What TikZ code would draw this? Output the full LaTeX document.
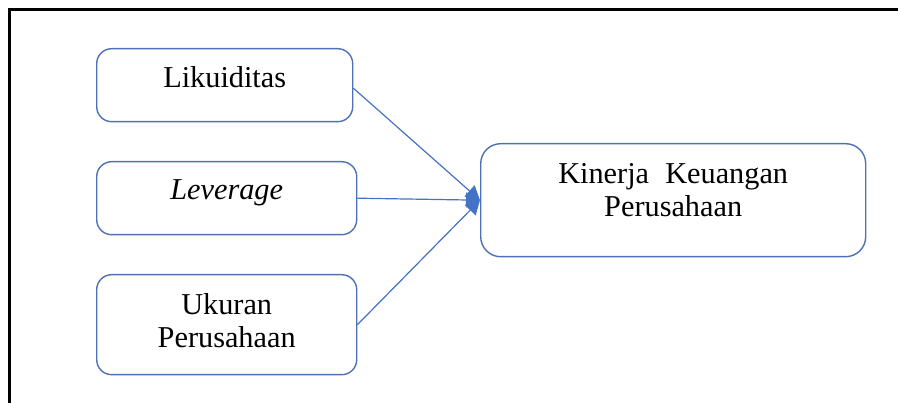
\documentclass[tikz,border=0pt]{standalone}
\usepackage{fontspec}
\setmainfont{Liberation Serif}
\usetikzlibrary{arrows.meta}
\definecolor{boxblue}{RGB}{78,112,180}
\definecolor{linkblue}{RGB}{68,114,196}

\begin{document}
\begin{tikzpicture}[x=1pt,y=-1pt]


\tikzset{
	varbox/.style={draw=boxblue, line width=1.4pt, rounded corners=#1pt, inner sep=0pt,
      align=center, anchor=north west, font=\fontsize{30.3}{32.5}\selectfont},
	varbox/.default=15,
	link/.style={draw=linkblue, line width=1.2pt, -{Triangle[length=14pt,width=15pt]}}
}

\useasboundingbox (0,0) rectangle (898,403);
\draw[line width=3.2pt] (9.5,403) -- (9.5,9.5) -- (898,9.5);

\node[varbox, text width=256pt, text height=39pt, text depth=34pt] (likuid) at (96,48) {Likuiditas};
\node[varbox, text width=260pt, text height=38pt, text depth=35pt] (lev) at (96,161) {\textit{Leverage}};
\node[varbox, text width=260pt, text height=40pt, text depth=60pt] (ukuran) at (96,274) {Ukuran\\Perusahaan};
\node[varbox=20, text width=385pt, text height=40pt, text depth=73pt] (kinerja) at (480,143) {Kinerja\hspace{0.2em} Keuangan\\Perusahaan};

\draw[link] ([yshift=-3pt]likuid.east) -- (kinerja.west);
\draw[link] (lev.east) -- (kinerja.west);
\draw[link] (ukuran.east) -- (kinerja.west);

\end{tikzpicture}
\end{document}
